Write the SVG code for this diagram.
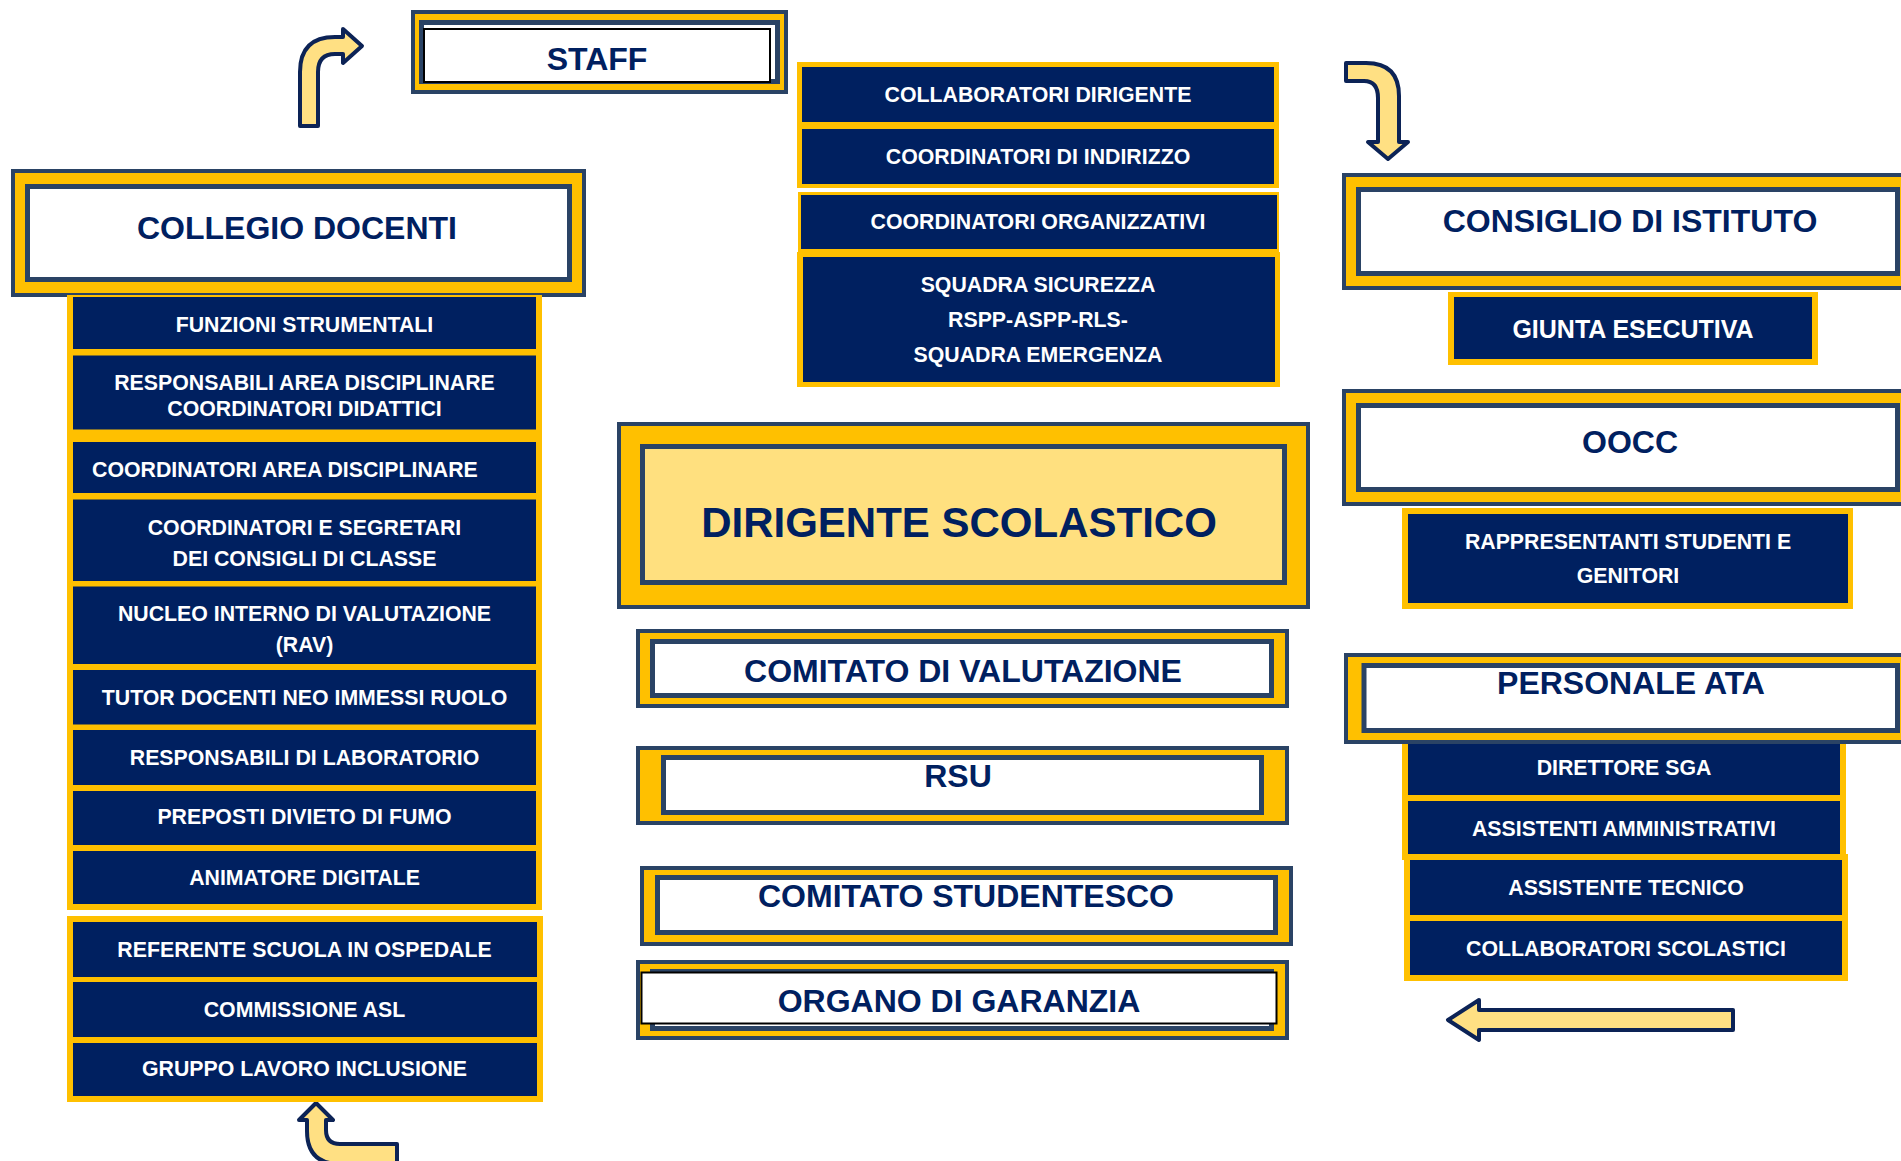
<svg xmlns="http://www.w3.org/2000/svg" width="1901" height="1161" viewBox="0 0 1901 1161">
<style>
.o{fill:#FFC000;stroke:#2A4365;stroke-width:4}
.i{fill:#FFFFFF;stroke:#2A4365;stroke-width:5}
.il{fill:#FFE07F;stroke:#2A4365;stroke-width:5}
.y{fill:#FFC000}
.n{fill:#002060}
.bk{fill:#FFFFFF;stroke:#000000;stroke-width:2}
.t{font-family:"Liberation Sans",Arial,Helvetica,sans-serif;font-weight:bold;fill:#002060;font-size:32px;text-anchor:middle}
.w{font-family:"Liberation Sans",Arial,Helvetica,sans-serif;font-weight:bold;fill:#FFFFFF;font-size:21.3px;text-anchor:middle}
.ar{fill:#FFE083;stroke:#0C2356;stroke-width:4;stroke-linejoin:round}
</style>
<rect width="1901" height="1161" fill="#FFFFFF"/>

<g id="connectors">
<path class="ar" d="M300,126 L300,72 Q300,37 335,37 L343,37 L343,29 L362,46 L343,63 L343,54 L335,54 Q318,54 318,72 L318,126 Z"/>
<path class="ar" d="M1346,63 L1366,63 Q1399,63 1399,96 L1399,142 L1408,142 L1388,159 L1368,142 L1378,142 L1378,98 Q1378,81 1364,81 L1346,81 Z"/>
<path class="ar" d="M307,1120 L299,1120 L316,1103 L333,1120 L326,1120 L326,1130 Q326,1144 340,1144 L397,1144 L397,1164 L340,1164 Q307,1164 307,1131 Z"/>
<path class="ar" d="M1733,1010 L1479,1010 L1479,1000 L1448,1020 L1479,1040 L1479,1030 L1733,1030 Z"/>
</g>

<g id="staff">
<rect class="o" x="413" y="12" width="373" height="80"/>
<rect class="i" x="421.5" y="22.5" width="356" height="59"/>
<rect class="bk" x="424" y="29" width="346" height="53"/>
<text class="t" x="597" y="70">STAFF</text>
</g>

<g id="collegio-docenti">
<rect class="o" x="13" y="171" width="571" height="124"/>
<rect class="i" x="27.5" y="186.5" width="542" height="93"/>
<text class="t" x="297" y="239">COLLEGIO DOCENTI</text>
</g>

<g id="collegio-items">
<rect class="y" x="67" y="295" width="475" height="615"/>
<rect class="y" x="67" y="916" width="476" height="186"/>
<g id="funzioni-strumentali"><rect class="n" x="73" y="297" width="463" height="52"/><text class="w" x="304.5" y="332">FUNZIONI STRUMENTALI</text></g>
<g id="responsabili-area"><rect class="n" x="73" y="355.5" width="463" height="74"/><text class="w" x="304.5" y="390">RESPONSABILI AREA DISCIPLINARE</text><text class="w" x="304.5" y="416">COORDINATORI DIDATTICI</text></g>
<g id="coordinatori-area"><rect class="n" x="73" y="442" width="463" height="51"/><text class="w" x="92" y="477" style="text-anchor:start">COORDINATORI AREA DISCIPLINARE</text></g>
<g id="coordinatori-segretari"><rect class="n" x="73" y="499.5" width="463" height="81.5"/><text class="w" x="304.5" y="535">COORDINATORI E SEGRETARI</text><text class="w" x="304.5" y="565.5">DEI CONSIGLI DI CLASSE</text></g>
<g id="nucleo-interno"><rect class="n" x="73" y="586.5" width="463" height="77.5"/><text class="w" x="304.5" y="621">NUCLEO INTERNO DI VALUTAZIONE</text><text class="w" x="304.5" y="651.5">(RAV)</text></g>
<g id="tutor-docenti"><rect class="n" x="73" y="670" width="463" height="54.5"/><text class="w" x="304.5" y="704.5">TUTOR DOCENTI NEO IMMESSI RUOLO</text></g>
<g id="responsabili-laboratorio"><rect class="n" x="73" y="730" width="463" height="55"/><text class="w" x="304.5" y="765">RESPONSABILI DI LABORATORIO</text></g>
<g id="preposti-fumo"><rect class="n" x="73" y="791" width="463" height="54"/><text class="w" x="304.5" y="824">PREPOSTI DIVIETO DI FUMO</text></g>
<g id="animatore-digitale"><rect class="n" x="73" y="851" width="463" height="53"/><text class="w" x="304.5" y="885">ANIMATORE DIGITALE</text></g>
<g id="referente-ospedale"><rect class="n" x="73" y="922" width="464" height="55"/><text class="w" x="304.5" y="957">REFERENTE SCUOLA IN OSPEDALE</text></g>
<g id="commissione-asl"><rect class="n" x="73" y="982" width="464" height="55"/><text class="w" x="304.5" y="1017">COMMISSIONE ASL</text></g>
<g id="gruppo-inclusione"><rect class="n" x="73" y="1043" width="464" height="53"/><text class="w" x="304.5" y="1076">GRUPPO LAVORO INCLUSIONE</text></g>
</g>

<g id="staff-items">
<rect class="y" x="797" y="62" width="482" height="126"/>
<g id="collaboratori-dirigente"><rect class="n" x="802" y="67" width="472" height="55"/><text class="w" x="1038" y="102">COLLABORATORI DIRIGENTE</text></g>
<g id="coordinatori-indirizzo"><rect class="n" x="802" y="129" width="472" height="55"/><text class="w" x="1038" y="164">COORDINATORI DI INDIRIZZO</text></g>
<g id="coordinatori-organizzativi"><rect class="y" x="798" y="192" width="481" height="60"/><rect class="n" x="801" y="195" width="476" height="54"/><text class="w" x="1038" y="229">COORDINATORI ORGANIZZATIVI</text></g>
<g id="squadra-sicurezza"><rect class="y" x="797" y="252" width="483" height="135"/><rect class="n" x="803" y="257" width="472" height="125"/><text class="w" x="1038" y="292">SQUADRA SICUREZZA</text><text class="w" x="1038" y="327">RSPP-ASPP-RLS-</text><text class="w" x="1038" y="362">SQUADRA EMERGENZA</text></g>
</g>

<g id="dirigente-scolastico">
<rect class="o" x="619" y="424" width="689" height="183"/>
<rect class="il" x="642.5" y="446.5" width="642" height="136"/>
<text class="t" x="959" y="537" style="font-size:42px">DIRIGENTE SCOLASTICO</text>
</g>

<g id="comitato-valutazione">
<rect class="o" x="638" y="631" width="649" height="75"/>
<rect class="i" x="652.5" y="641.5" width="619" height="54"/>
<text class="t" x="963" y="682">COMITATO DI VALUTAZIONE</text>
</g>

<g id="rsu">
<rect class="o" x="638" y="748" width="649" height="75"/>
<rect class="i" x="663.5" y="757.5" width="598" height="55"/>
<text class="t" x="958" y="787">RSU</text>
</g>

<g id="comitato-studentesco">
<rect class="o" x="642" y="868" width="649" height="76"/>
<rect class="i" x="657.5" y="877.5" width="618" height="55"/>
<text class="t" x="966" y="907">COMITATO STUDENTESCO</text>
</g>

<g id="organo-garanzia">
<rect class="o" x="638" y="962" width="649" height="76"/>
<rect class="i" x="652.5" y="971.5" width="619" height="57"/>
<rect class="bk" x="641.5" y="972.5" width="635" height="51"/>
<text class="t" x="959" y="1012">ORGANO DI GARANZIA</text>
</g>

<g id="consiglio-istituto">
<rect class="o" x="1344" y="175" width="580" height="113"/>
<rect class="i" x="1358.5" y="189.5" width="539" height="84"/>
<text class="t" x="1630" y="232">CONSIGLIO DI ISTITUTO</text>
</g>

<g id="giunta-esecutiva">
<rect class="y" x="1448" y="292" width="370" height="73"/>
<rect class="n" x="1454" y="297" width="358" height="62"/>
<text class="w" x="1633" y="338" style="font-size:25px">GIUNTA ESECUTIVA</text>
</g>

<g id="oocc">
<rect class="o" x="1344" y="391" width="580" height="113"/>
<rect class="i" x="1358.5" y="405.5" width="539" height="84"/>
<text class="t" x="1630" y="453">OOCC</text>
</g>

<g id="rappresentanti">
<rect class="y" x="1402" y="508" width="451" height="101"/>
<rect class="n" x="1408" y="514" width="440" height="89"/>
<text class="w" x="1628" y="549">RAPPRESENTANTI STUDENTI E</text>
<text class="w" x="1628" y="583">GENITORI</text>
</g>

<g id="ata-items">
<rect class="y" x="1402" y="740" width="444" height="120"/>
<rect class="y" x="1404" y="854" width="444" height="127"/>
<g id="direttore-sga"><rect class="n" x="1408" y="742" width="432" height="53"/><text class="w" x="1624" y="775">DIRETTORE SGA</text></g>
<g id="assistenti-amministrativi"><rect class="n" x="1408" y="801" width="432" height="53"/><text class="w" x="1624" y="836">ASSISTENTI AMMINISTRATIVI</text></g>
<g id="assistente-tecnico"><rect class="n" x="1410" y="860" width="432" height="55"/><text class="w" x="1626" y="895">ASSISTENTE TECNICO</text></g>
<g id="collaboratori-scolastici"><rect class="n" x="1410" y="921" width="432" height="54"/><text class="w" x="1626" y="956">COLLABORATORI SCOLASTICI</text></g>
</g>

<g id="personale-ata">
<rect class="o" x="1346" y="655" width="578" height="87"/>
<rect class="i" x="1364" y="665.5" width="533.5" height="65"/>
<text class="t" x="1631" y="694">PERSONALE ATA</text>
</g>
</svg>
